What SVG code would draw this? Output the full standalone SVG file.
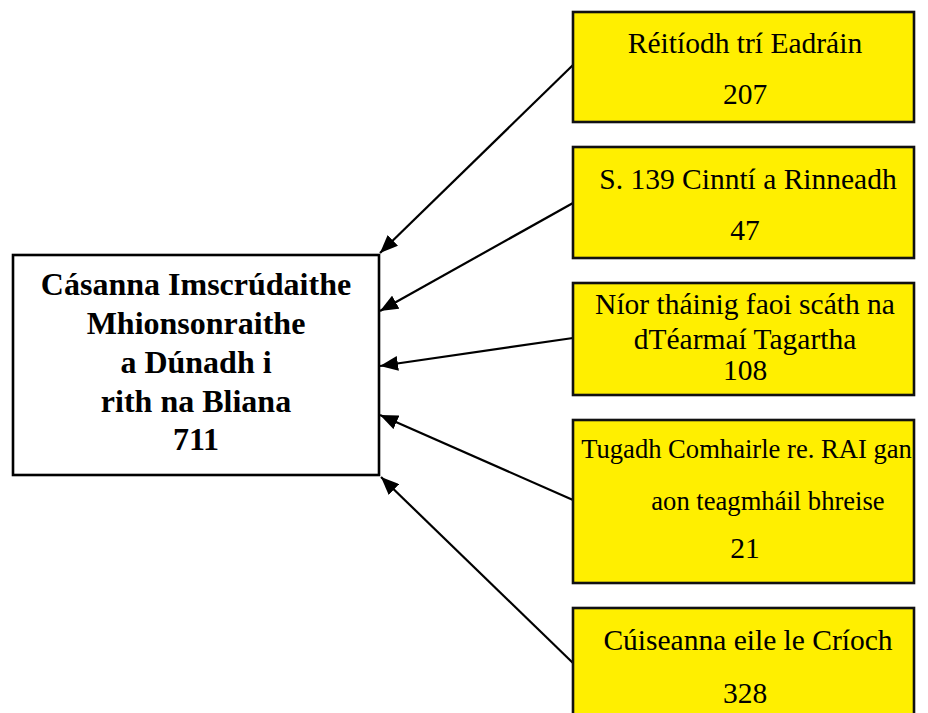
<svg xmlns="http://www.w3.org/2000/svg" width="928" height="713" viewBox="0 0 928 713">
<style>
.box{fill:#fff;stroke:#000;stroke-width:2.6}
.ybox{fill:#FFEF00;stroke:#111;stroke-width:2.6}
.t{font-family:"Liberation Serif","Times New Roman",serif;font-size:29.5px;fill:#000;text-anchor:middle}
.s{font-size:26.6px}
.b{font-family:"Liberation Serif","Times New Roman",serif;font-size:32px;font-weight:bold;fill:#000;text-anchor:middle}
.c{stroke:#000;stroke-width:2.2;fill:none;marker-end:url(#ah)}
</style>
<defs>
<marker id="ah" markerUnits="userSpaceOnUse" markerWidth="19" markerHeight="15" refX="18" refY="7.5" orient="auto">
<path d="M0,0 L18,7.5 L0,15 z" fill="#000"/>
</marker>
</defs>
<rect width="928" height="713" fill="#fff"/>
<g id="connectors">
<line class="c" x1="573" y1="65" x2="380" y2="253"/>
<line class="c" x1="573" y1="203" x2="380" y2="311"/>
<line class="c" x1="573" y1="338" x2="380" y2="366"/>
<line class="c" x1="573" y1="500" x2="380" y2="415"/>
<line class="c" x1="573" y1="663" x2="381" y2="477"/>
</g>
<g id="center">
<rect class="box" x="13" y="255" width="366" height="220"/>
<text class="b" x="196" y="295">Cásanna Imscrúdaithe</text>
<text class="b" x="196" y="334">Mhionsonraithe</text>
<text class="b" x="196" y="373">a Dúnadh i</text>
<text class="b" x="196" y="412">rith na Bliana</text>
<text class="b" x="196" y="450">711</text>
</g>
<g id="n1">
<rect class="ybox" x="573" y="12" width="341" height="110"/>
<text class="t" x="745" y="53">Réitíodh trí Eadráin</text>
<text class="t" x="745" y="104">207</text>
</g>
<g id="n2">
<rect class="ybox" x="573" y="147" width="341" height="111"/>
<text class="t" x="748" y="189">S. 139 Cinntí a Rinneadh</text>
<text class="t" x="745" y="240">47</text>
</g>
<g id="n3">
<rect class="ybox" x="573" y="283" width="341" height="112"/>
<text class="t" x="745" y="314">Níor tháinig faoi scáth na</text>
<text class="t" x="745" y="349">dTéarmaí Tagartha</text>
<text class="t" x="745" y="380">108</text>
</g>
<g id="n4">
<rect class="ybox" x="573" y="420" width="341" height="163"/>
<text class="t s" x="746.5" y="458">Tugadh Comhairle re. RAI gan</text>
<text class="t s" x="768" y="510">aon teagmháil bhreise</text>
<text class="t" x="745" y="558">21</text>
</g>
<g id="n5">
<rect class="ybox" x="573" y="608" width="341" height="120"/>
<text class="t" x="748" y="650">Cúiseanna eile le Críoch</text>
<text class="t" x="745" y="703">328</text>
</g>
</svg>
